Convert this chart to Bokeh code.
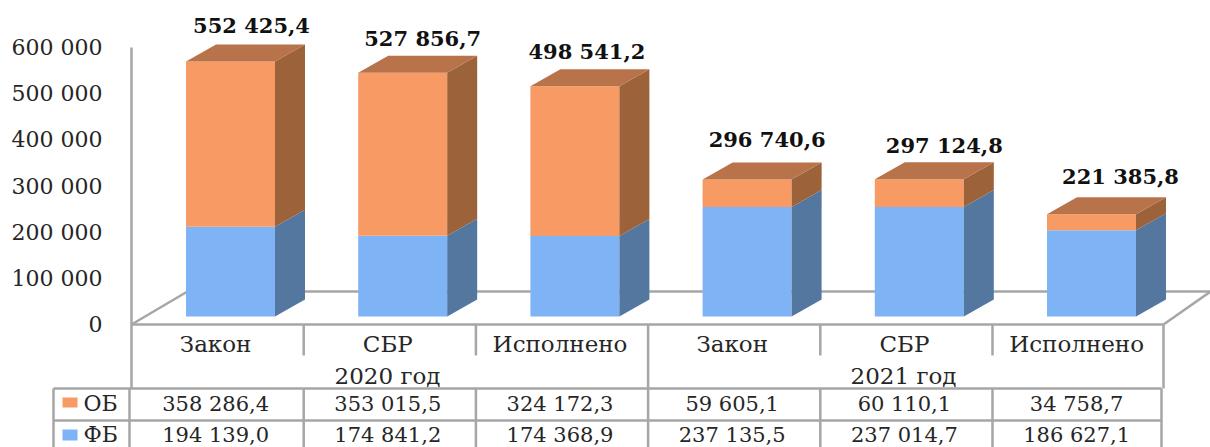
from bokeh.plotting import figure
from bokeh.models import LinearAxis, FixedTicker, Range1d
from bokeh.core.properties import value
from bokeh.embed import file_html
from bokeh.resources import INLINE

# ---- data ----
groups = ["2020 год", "2021 год"]
categories = ["Закон", "СБР", "Исполнено", "Закон", "СБР", "Исполнено"]
ob = [358286.4, 353015.5, 324172.3, 59605.1, 60110.1, 34758.7]
fb = [194139.0, 174841.2, 174368.9, 237135.5, 237014.7, 186627.1]
totals = [552425.4, 527856.7, 498541.2, 296740.6, 297124.8, 221385.8]
ob_labels = ["358 286,4", "353 015,5", "324 172,3", "59 605,1", "60 110,1", "34 758,7"]
fb_labels = ["194 139,0", "174 841,2", "174 368,9", "237 135,5", "237 014,7", "186 627,1"]
total_labels = ["552 425,4", "527 856,7", "498 541,2", "296 740,6", "297 124,8", "221 385,8"]
y_ticks = [0, 100000, 200000, 300000, 400000, 500000, 600000]
y_tick_labels = {0: "0", 100000: "100 000", 200000: "200 000", 300000: "300 000",
                 400000: "400 000", 500000: "500 000", 600000: "600 000"}

# ---- geometry (image pixels -> data units) ----
W, H = 1210, 447
SLOT = 172.2
PXK = 277 / 600000       # px per unit
X0 = 131.0               # left edge of first slot in image px
Y0 = 324.0               # image px of value 0


def xd(px):
    return (px - X0) / SLOT


def yd(py):
    return (Y0 - py) / PXK


FONT = "DejaVu Serif"
GRID = "#a6a6a6"
TXT = "#262626"
ORANGE, ORANGE_SIDE, ORANGE_TOP = "#f79a63", "#9c623a", "#b8734a"
BLUE, BLUE_SIDE = "#7eb4f5", "#54779f"

p = figure(width=W, height=H, output_backend="svg", toolbar_location=None,
           x_range=Range1d(xd(0), xd(W)), y_range=Range1d(yd(H), yd(0)),
           x_axis_type=None, y_axis_type=None, min_border=0, outline_line_color=None)
p.xgrid.visible = False
p.ygrid.visible = False

# floor
p.multi_line(xs=[[xd(131), xd(187), xd(1210)], [xd(1163), xd(1210)], [xd(131), xd(1163)]],
             ys=[[yd(324), yd(291), yd(291)], [yd(324), yd(291)], [yd(324), yd(324)]],
             line_color=GRID, line_width=2.5)

# bars
centers = [xd(230) + i for i in range(6)]
bw = 89 / SLOT
dx = 30 / SLOT
dy = 17 / PXK
lift = 8 / PXK

fb_top = [lift + v for v in fb]
ob_top = [lift + a + b for a, b in zip(fb, ob)]
p.vbar(x=centers, width=bw, bottom=lift, top=fb_top, fill_color=BLUE, line_color=None)
p.vbar(x=centers, width=bw, bottom=fb_top, top=ob_top, fill_color=ORANGE, line_color=None)

rights = [c + bw / 2 for c in centers]
lefts = [c - bw / 2 for c in centers]
p.patches(xs=[[r, r + dx, r + dx, r] for r in rights],
          ys=[[lift, lift + dy, t + dy, t] for t in fb_top],
          fill_color=BLUE_SIDE, line_color=None)
p.patches(xs=[[r, r + dx, r + dx, r] for r in rights],
          ys=[[b, b + dy, t + dy, t] for b, t in zip(fb_top, ob_top)],
          fill_color=ORANGE_SIDE, line_color=None)
p.patches(xs=[[l, l + dx, r + dx, r] for l, r in zip(lefts, rights)],
          ys=[[t, t + dy, t + dy, t] for t in ob_top],
          fill_color=ORANGE_TOP, line_color=None)

# total labels
nudge_x = [21, 20, 12, 20, 25, 29]
nudge_y = [36, 34, 35, 40, 34, 38]
p.text(x=[c + n / SLOT for c, n in zip(centers, nudge_x)],
       y=[t + n / PXK for t, n in zip(ob_top, nudge_y)],
       text=total_labels, text_font=value(FONT), text_font_style="bold",
       text_font_size="21px", text_color="#111111", text_align="center", text_baseline="middle")

# y axis (real axis, drawn at the left edge of the first slot)
axis = LinearAxis(fixed_location=xd(131), ticker=FixedTicker(ticks=y_ticks),
                  major_label_overrides=y_tick_labels, major_tick_line_color=None,
                  minor_tick_line_color=None, axis_line_color=GRID, axis_line_width=2.5,
                  bounds=(yd(388), 600000), major_label_standoff=23,
                  major_label_text_font=FONT, major_label_text_font_size="22px",
                  major_label_text_color=TXT)
p.add_layout(axis, "left")

# table rules
xs_all, ys_all = [], []
for j in range(1, 6):
    xp = X0 + j * SLOT
    xs_all.append([xd(xp), xd(xp)])
    ys_all.append([yd(324), yd(388 if j == 3 else 355)])
    xs_all.append([xd(xp), xd(xp)])
    ys_all.append([yd(388), yd(460)])
for xp, a, b in [(1163, 324, 388), (1161, 388, 460), (53, 388, 460), (129, 388, 460)]:
    xs_all.append([xd(xp), xd(xp)])
    ys_all.append([yd(a), yd(b)])
for py in (388, 420):
    xs_all.append([xd(53), xd(1161)])
    ys_all.append([yd(py), yd(py)])
p.multi_line(xs=xs_all, ys=ys_all, line_color=GRID, line_width=2.5)

# table texts
slot_c = [xd(X0 + SLOT / 2 - 2) + i for i in range(6)]
common = dict(text_font=value(FONT), text_color=TXT, text_align="center", text_baseline="middle")
p.text(x=slot_c, y=[yd(343)] * 6, text=categories, text_font_size="23px", **common)
p.text(x=[xd(387), xd(903)], y=[yd(375)] * 2, text=groups, text_font_size="23px", **common)
p.text(x=slot_c, y=[yd(403)] * 6, text=ob_labels, text_font_size="21px", **common)
p.text(x=slot_c, y=[yd(434)] * 6, text=fb_labels, text_font_size="21px", **common)

# legend keys in the table
p.quad(left=[xd(62)] * 2, right=[xd(77)] * 2, top=[yd(397), yd(429)], bottom=[yd(407), yd(440)],
       fill_color=[ORANGE, BLUE], line_color=None)
p.text(x=[xd(83)] * 2, y=[yd(403), yd(434)], text=["ОБ", "ФБ"], text_font=value(FONT),
       text_color=TXT, text_align="left", text_baseline="middle", text_font_size="22px")

open("out.html", "w").write(file_html(p, INLINE))
